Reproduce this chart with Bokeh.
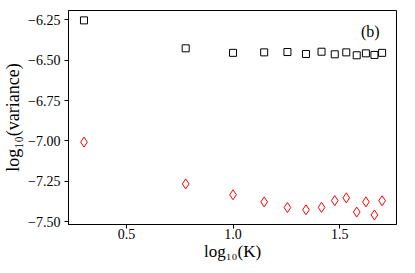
from bokeh.plotting import figure
from bokeh.models import Range1d, FixedTicker, CustomJSTickFormatter, Label
from bokeh.embed import file_html
from bokeh.resources import INLINE

# log10(K) for K = 2, 6, 10, ..., 50
log_k = [0.301, 0.778, 1.000, 1.146, 1.255, 1.342, 1.415, 1.477, 1.531, 1.580, 1.623, 1.663, 1.699]
var_squares = [-6.254, -6.427, -6.455, -6.452, -6.450, -6.462, -6.448, -6.464, -6.452, -6.470, -6.458, -6.468, -6.455]
var_diamonds = [-7.007, -7.266, -7.333, -7.377, -7.412, -7.426, -7.411, -7.369, -7.352, -7.440, -7.377, -7.458, -7.370]
x_ticks = [0.5, 1.0, 1.5]
y_ticks = [-7.5, -7.25, -7.0, -6.75, -6.5, -6.25]

FONT = "Liberation Serif"

p = figure(width=399, height=263, output_backend="svg", toolbar_location=None,
           x_range=Range1d(0.2284, 1.7665), y_range=Range1d(-7.517, -6.193),
           min_border_left=65, min_border_right=3, min_border_top=10, min_border_bottom=38)

p.scatter(log_k, var_squares, marker="square", size=7, fill_color=None,
          line_color="black", line_width=1)
p.scatter(log_k, var_diamonds, marker="diamond", size=10, fill_color=None,
          line_color="red", line_width=1)

p.xgrid.visible = False
p.ygrid.visible = False
p.outline_line_color = "black"
p.outline_line_width = 1
p.outline_line_alpha = 1

p.xaxis.ticker = FixedTicker(ticks=x_ticks)
p.yaxis.ticker = FixedTicker(ticks=y_ticks)
p.xaxis.formatter = CustomJSTickFormatter(code="return (tick < 0 ? '\\u2212' : '') + Math.abs(tick).toFixed(1);")
p.yaxis.formatter = CustomJSTickFormatter(code="return (tick < 0 ? '\\u2212' : '') + Math.abs(tick).toFixed(2);")

for ax in (p.xaxis[0], p.yaxis[0]):
    ax.axis_line_color = "black"
    ax.major_tick_line_color = "black"
    ax.major_tick_out = 4
    ax.major_tick_in = 0
    ax.minor_tick_line_color = None
    ax.major_label_text_font = FONT
    ax.major_label_text_font_size = "14px"
    ax.major_label_text_color = "black"
    ax.axis_label_text_font = FONT
    ax.axis_label_text_font_style = "normal"
    ax.axis_label_text_color = "black"

p.xaxis.axis_label_text_font_size = "17px"
p.yaxis.axis_label_text_font_size = "18px"
p.xaxis.major_label_standoff = 0
p.xaxis.axis_label_standoff = 0
p.yaxis.major_label_standoff = 4
p.yaxis.axis_label_standoff = 2

p.xaxis.axis_label = "log\u2081\u2080(K)"
p.yaxis.axis_label = "log\u2081\u2080(variance)"

p.add_layout(Label(x=1.687, y=-6.325, text="(b)", text_align="right", text_baseline="middle",
                   text_font=FONT, text_font_size="16px", text_color="black"))

open("out.html", "w").write(file_html(p, INLINE))
